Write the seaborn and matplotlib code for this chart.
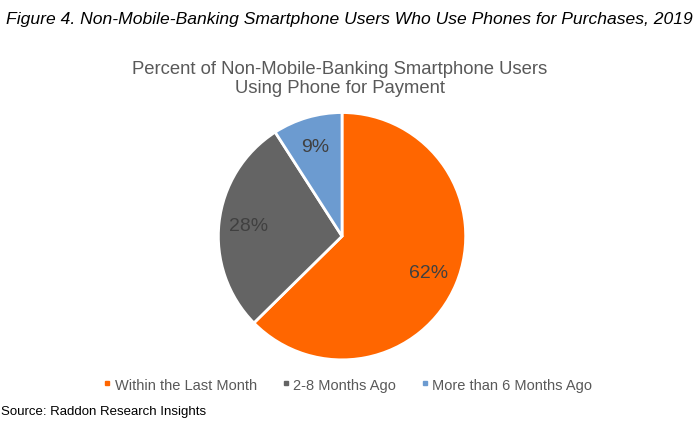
import matplotlib
matplotlib.use("Agg")
import matplotlib.pyplot as plt
from matplotlib.lines import Line2D
import seaborn as sns

categories = ["Within the Last Month", "2-8 Months Ago", "More than 6 Months Ago"]
percents = [62, 28, 9]
colors = ["#FF6600", "#646464", "#6C9BD0"]

sns.set_theme(style="white")
plt.rcParams["font.family"] = ["Liberation Sans", "DejaVu Sans"]

fig = plt.figure(figsize=(6.98, 4.27), dpi=100)
ax = fig.add_axes([0.311, 0.152, 0.358, 0.585])

wedges, texts, autotexts = ax.pie(
    percents, colors=sns.color_palette(colors), startangle=90, counterclock=False,
    autopct="%d%%", pctdistance=0.76, normalize=True,
    wedgeprops=dict(edgecolor="white", linewidth=2),
    textprops=dict(color="#404040", fontsize=14))
# print the read-off values rather than normalized ones
for t, v in zip(autotexts, percents):
    t.set_text(f"{v}%")
ax.set_xlim(-1.01, 1.01)
ax.set_ylim(-1.01, 1.01)
ax.set_aspect("equal")

fig.text(0.008, 0.955, "Figure 4. Non-Mobile-Banking Smartphone Users Who Use Phones for Purchases, 2019",
         fontsize=12.6, style="italic", color="black", ha="left", va="center")
fig.text(0.487, 0.815, "Percent of Non-Mobile-Banking Smartphone Users\nUsing Phone for Payment",
         fontsize=13.3, color="#595959", ha="center", va="center", linespacing=1.1)

handles = [Line2D([0], [0], marker="s", linestyle="", markersize=3.5,
                  markerfacecolor=c, markeredgecolor=c) for c in colors]
fig.legend(handles, categories, loc="center", bbox_to_anchor=(0.497, 0.097), ncol=3,
           frameon=False, fontsize=10.5, labelcolor="#595959",
           handletextpad=0.1, columnspacing=1.6, handlelength=0.8)

fig.text(0.002, 0.036, "Source: Raddon Research Insights", fontsize=9.5,
         color="black", ha="left", va="center")

fig.savefig("out.png", dpi=100)
